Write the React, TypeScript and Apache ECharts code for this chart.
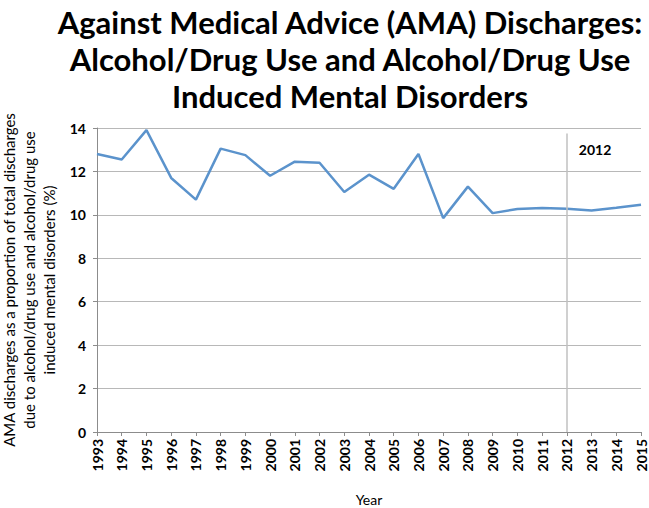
import React, { useEffect, useRef } from "react";
import * as echarts from "echarts";

const years = ["1993","1994","1995","1996","1997","1998","1999","2000","2001","2002","2003","2004","2005","2006","2007","2008","2009","2010","2011","2012","2013","2014","2015"];
const amaRate = [12.8,12.55,13.9,11.7,10.7,13.05,12.75,11.8,12.45,12.4,11.05,11.85,11.2,12.8,9.85,11.3,10.08,10.27,10.32,10.28,10.2,10.33,10.47];
const markerYear = "2012";
const titleText = "Against Medical Advice (AMA) Discharges:\nAlcohol/Drug Use and Alcohol/Drug Use\nInduced Mental Disorders";
const yName = "AMA discharges as a proportion of total discharges\ndue to alcohol/drug use and alcohol/drug use\ninduced mental disorders (%)";

export default function App() {
  const ref = useRef<HTMLDivElement>(null);
  useEffect(() => {
    if (!ref.current) return;
    const chart = echarts.init(ref.current, null, { renderer: "svg" });
    chart.setOption({
      animation: false,
      title: {
        text: titleText,
        left: 345,
        textAlign: "center",
        top: -2,
        textStyle: { fontFamily: "Lato", fontWeight: "bold", fontSize: 31, lineHeight: 37, color: "#000" },
      },
      grid: { left: 97, right: 8, top: 128, bottom: 76, containLabel: false, outerBoundsMode: "none" },
      xAxis: {
        type: "category",
        data: years,
        boundaryGap: false,
        name: "Year",
        nameLocation: "middle",
        nameGap: 60,
        nameTextStyle: { fontFamily: "Lato", fontSize: 14, color: "#000" },
        axisLine: { lineStyle: { color: "#8c8c8c" } },
        axisTick: { show: true, length: 4, lineStyle: { color: "#8c8c8c" } },
        axisLabel: { rotate: 90, interval: 0, fontFamily: "Lato", fontWeight: "bold", fontSize: 14, color: "#000", margin: 7 },
        splitLine: { show: false },
      },
      yAxis: {
        type: "value",
        min: 0,
        max: 14,
        interval: 2,
        name: yName,
        nameLocation: "middle",
        nameGap: 36,
        nameTextStyle: { fontFamily: "Lato", fontSize: 15, lineHeight: 20, color: "#000" },
        axisLine: { show: true, lineStyle: { color: "#8c8c8c" } },
        axisTick: { show: true, length: 4, lineStyle: { color: "#8c8c8c" } },
        axisLabel: { fontFamily: "Lato", fontWeight: "bold", fontSize: 14, color: "#000", margin: 11 },
        splitLine: { lineStyle: { color: "#b8b8b8", width: 1 } },
      },
      series: [
        {
          type: "line",
          data: amaRate,
          symbol: "none",
          lineStyle: { color: "#5b93cc", width: 2.5 },
          markLine: {
            silent: true,
            symbol: "none",
            label: { show: false },
            lineStyle: { color: "#c0c0c0", width: 1.5, type: "solid" },
            data: [[{ coord: [markerYear, 0] }, { coord: [markerYear, 13.75] }]],
          },
          markPoint: {
            symbol: "circle",
            symbolSize: 0,
            data: [{ coord: [markerYear, 13] }],
            label: {
              show: true,
              position: "right",
              distance: 12,
              formatter: markerYear,
              fontFamily: "Lato",
              fontWeight: "bold",
              fontSize: 14,
              color: "#000",
            },
          },
        },
      ],
    });
    return () => chart.dispose();
  }, []);
  return <div ref={ref} style={{ width: 649, height: 508, position: "absolute", left: 0, top: 0 }} />;
}
